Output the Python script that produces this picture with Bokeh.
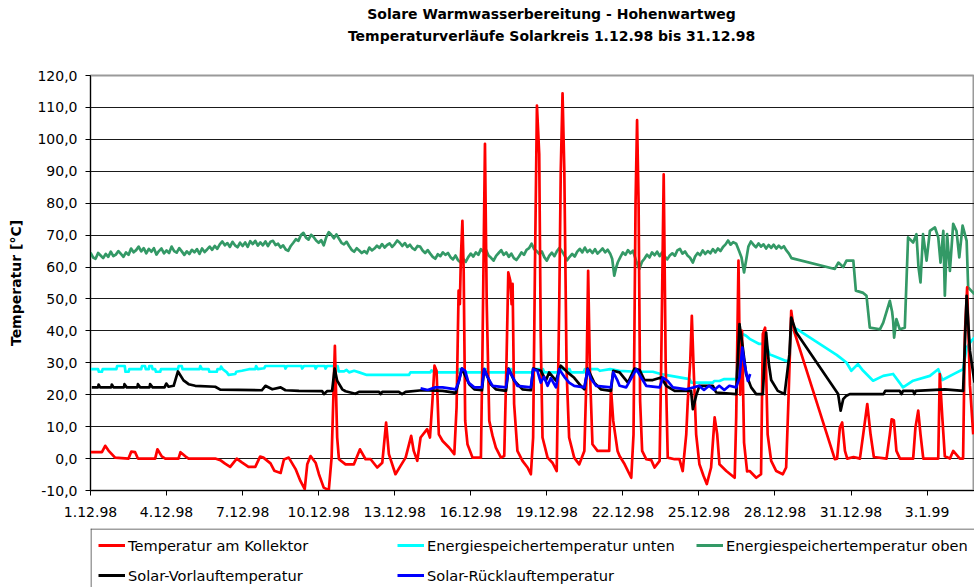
import math
from bokeh.plotting import figure
from bokeh.models import Range1d, FixedTicker, Legend, LegendItem, Span, Label
from bokeh.layouts import column
from bokeh.embed import file_html
from bokeh.resources import INLINE

# ---------------- data (day 0 = 1.12.98) ----------------
X_TICKS = [0, 3, 6, 9, 12, 15, 18, 21, 24, 27, 30, 33]
X_LABELS = ["1.12.98", "4.12.98", "7.12.98", "10.12.98", "13.12.98", "16.12.98",
            "19.12.98", "22.12.98", "25.12.98", "28.12.98", "31.12.98", "3.1.99"]
Y_TICKS = [-10, 0, 10, 20, 30, 40, 50, 60, 70, 80, 90, 100, 110, 120]
Y_LABELS = ["-10,0", "0,0", "10,0", "20,0", "30,0", "40,0", "50,0", "60,0", "70,0",
            "80,0", "90,0", "100,0", "110,0", "120,0"]
TITLE_1 = "Solare Warmwasserbereitung - Hohenwartweg"
TITLE_2 = "Temperaturverläufe Solarkreis 1.12.98 bis 31.12.98"
Y_TITLE = "Temperatur [°C]"

KOLLEKTOR = [(0.00,2.0),(0.45,2.0),(0.58,4.0),(0.71,2.5),(0.97,0.3),(1.50,0.0),(1.61,2.2),(1.76,2.0),(1.87,0.0),(2.55,0.0),(2.64,2.9),(2.81,0.7),(2.95,0.0),(3.47,0.0),(3.55,2.0),(3.74,0.7),(3.87,0.0),(4.92,0.0),(5.12,-0.5),(5.31,-1.6),(5.51,-2.6),(5.77,0.0),(5.97,-1.2),(6.23,-2.6),(6.50,-2.6),(6.69,0.6),(6.82,0.3),(7.10,-1.5),(7.25,-3.8),(7.50,-4.5),(7.63,-0.3),(7.82,0.3),(8.09,-3.3),(8.28,-7.0),(8.45,-9.6),(8.55,-1.8),(8.68,0.8),(8.88,-1.3),(9.01,-4.9),(9.20,-9.1),(9.40,-9.9),(9.51,0.3),(9.64,35.3),(9.73,6.6),(9.80,-0.2),(10.06,-1.8),(10.39,-1.8),(10.63,2.9),(10.85,-0.2),(11.05,-0.2),(11.31,-2.8),(11.51,-1.3),(11.66,11.3),(11.77,1.4),(12.03,-4.9),(12.23,-2.3),(12.43,0.3),(12.65,7.1),(12.75,2.4),(12.89,-0.7),(13.02,6.6),(13.28,9.2),(13.39,6.6),(13.48,17.1),(13.57,29.1),(13.65,27.5),(13.74,7.6),(13.89,5.5),(14.15,3.4),(14.35,1.4),(14.44,16.0),(14.52,52.6),(14.57,48.4),(14.61,63.0),(14.67,74.5),(14.72,58.8),(14.78,11.8),(14.87,4.5),(15.07,0.3),(15.40,0.3),(15.46,32.7),(15.56,98.6),(15.63,48.4),(15.73,11.8),(15.86,7.1),(15.99,3.4),(16.19,0.3),(16.32,0.8),(16.41,30.6),(16.48,58.3),(16.56,55.7),(16.61,48.4),(16.65,54.7),(16.71,17.1),(16.84,2.4),(17.04,-0.7),(17.24,-2.8),(17.37,-4.9),(17.46,6.6),(17.53,58.8),(17.61,110.6),(17.70,95.4),(17.76,37.9),(17.83,6.6),(18.03,0.3),(18.22,-1.3),(18.39,-3.9),(18.49,48.4),(18.55,90.2),(18.62,114.4),(18.69,90.2),(18.78,27.5),(18.88,6.6),(19.08,0.3),(19.28,-1.8),(19.48,2.4),(19.57,27.5),(19.63,58.8),(19.70,27.5),(19.80,4.5),(20.00,2.4),(20.46,2.4),(20.53,22.0),(20.62,11.8),(20.79,2.4),(20.87,0.8),(21.07,-1.8),(21.33,-6.0),(21.42,7.6),(21.50,80.0),(21.56,106.0),(21.62,80.0),(21.68,18.0),(21.76,2.4),(21.92,-0.2),(22.12,-0.5),(22.25,-2.8),(22.45,-0.7),(22.51,28.5),(22.61,89.0),(22.69,28.5),(22.77,0.3),(23.04,-0.2),(23.23,-0.2),(23.36,-3.9),(23.50,7.6),(23.56,18.0),(23.66,31.0),(23.72,44.7),(23.79,28.5),(23.89,7.6),(24.02,-1.8),(24.18,-5.4),(24.31,-8.0),(24.48,-2.8),(24.62,12.9),(24.72,7.6),(24.81,-1.8),(25.08,-3.9),(25.41,-6.0),(25.47,12.9),(25.56,62.0),(25.63,20.0),(25.70,40.0),(25.78,5.0),(25.90,-4.0),(26.00,-3.9),(26.26,-6.0),(26.45,-4.9),(26.52,39.0),(26.61,41.0),(26.71,7.6),(26.85,-0.7),(27.05,-3.9),(27.31,-4.9),(27.44,-2.8),(27.53,18.0),(27.64,46.3),(27.75,40.0),(29.36,-0.2),(29.45,0.0),(29.56,9.7),(29.65,11.3),(29.76,2.4),(29.85,0.0),(30.10,0.5),(30.35,0.0),(30.48,7.6),(30.64,17.1),(30.77,7.6),(30.90,0.5),(31.40,0.0),(31.53,7.6),(31.60,12.3),(31.69,12.0),(31.79,2.4),(31.93,0.0),(32.45,0.0),(32.54,9.7),(32.65,15.0),(32.74,7.6),(32.85,0.0),(33.44,0.0),(33.50,26.5),(33.60,12.9),(33.70,0.7),(33.90,0.0),(34.03,2.4),(34.29,0.0),(34.42,0.0),(34.49,39.0),(34.58,53.6),(34.69,23.0),(34.82,7.6)]

SPEICHER_UNTEN = [(0.00,28.0),(0.30,28.0),(0.33,27.2),(0.45,27.2),(0.48,28.0),(1.02,28.0),(1.05,29.0),(1.35,29.0),(1.38,27.2),(1.50,27.2),(1.53,28.0),(2.00,28.0),(2.03,29.0),(2.15,29.0),(2.18,28.0),(2.30,28.0),(2.32,29.0),(2.42,29.0),(2.45,28.0),(2.55,28.0),(2.58,27.2),(2.75,27.2),(2.78,28.0),(3.45,28.0),(3.48,29.0),(3.60,29.0),(3.63,28.0),(4.30,28.0),(4.33,29.0),(4.40,28.0),(4.66,28.0),(4.69,27.2),(4.98,27.2),(5.01,28.0),(5.12,28.0),(5.15,28.8),(5.22,28.0),(5.38,27.0),(5.45,26.2),(5.71,26.5),(5.75,27.2),(5.97,27.5),(6.25,28.0),(6.50,28.0),(6.53,29.0),(6.60,28.0),(6.85,28.3),(6.90,29.0),(7.66,29.0),(7.69,28.2),(7.75,29.0),(8.32,29.0),(8.35,28.2),(8.42,29.0),(8.85,29.0),(8.88,28.2),(8.94,29.0),(9.24,29.0),(9.27,28.2),(9.33,29.0),(9.75,29.0),(9.79,27.3),(10.00,27.3),(10.10,27.8),(10.20,27.0),(10.40,27.5),(10.60,27.0),(10.90,26.2),(11.00,26.2),(12.56,26.2),(12.62,27.0),(13.40,27.0),(13.45,27.6),(13.60,27.0),(14.50,27.0),(14.55,28.0),(14.70,28.0),(14.75,27.0),(15.45,27.0),(15.50,28.0),(15.60,28.0),(15.65,27.0),(16.45,27.0),(16.50,28.0),(16.60,28.0),(16.65,27.0),(17.45,27.0),(17.50,28.0),(17.85,28.0),(17.90,27.0),(18.45,27.0),(18.50,28.0),(18.90,28.0),(18.95,27.0),(19.45,27.0),(19.50,28.0),(20.00,28.0),(20.10,27.5),(20.50,28.0),(20.87,27.5),(21.53,27.2),(22.18,27.2),(22.50,26.5),(22.84,26.0),(23.63,24.9),(23.70,23.8),(24.55,23.8),(24.60,24.3),(24.81,24.3),(25.00,24.9),(25.47,24.9),(25.60,39.5),(25.86,38.5),(26.00,37.5),(26.38,35.9),(26.65,35.9),(26.78,32.7),(27.00,32.0),(27.44,30.6),(27.57,30.6),(27.64,41.0),(27.85,40.6),(29.43,32.5),(29.56,31.7),(29.82,30.1),(30.01,27.5),(30.27,29.6),(30.48,27.5),(30.87,24.4),(31.27,25.9),(31.66,26.5),(32.05,22.3),(32.45,24.4),(33.11,25.9),(33.44,28.0),(33.60,24.6),(34.10,26.7),(34.42,28.0),(34.56,34.8),(34.75,36.9),(34.87,37.9)]

SPEICHER_OBEN = [(0.0,64.5),(0.1,63.0),(0.2,62.6),(0.3,64.4),(0.4,63.6),(0.5,62.8),(0.6,64.1),(0.7,63.2),(0.8,64.8),(0.9,63.4),(1.0,63.9),(1.1,65.0),(1.2,64.1),(1.3,63.2),(1.4,64.6),(1.5,63.8),(1.6,65.8),(1.7,64.6),(1.8,65.3),(1.9,66.4),(2.0,64.9),(2.1,65.9),(2.2,64.3),(2.3,65.7),(2.4,64.8),(2.5,65.9),(2.6,63.9),(2.7,65.0),(2.8,65.8),(2.9,64.3),(3.0,65.2),(3.1,64.4),(3.2,66.4),(3.3,65.0),(3.4,64.5),(3.5,65.9),(3.6,64.9),(3.7,63.8),(3.8,64.9),(3.9,64.1),(4.0,65.4),(4.1,64.6),(4.2,65.6),(4.3,64.1),(4.4,65.8),(4.5,64.7),(4.6,65.5),(4.7,66.4),(4.8,65.4),(4.9,66.6),(5.0,65.7),(5.1,67.1),(5.2,68.0),(5.3,66.8),(5.4,67.5),(5.5,66.3),(5.6,67.9),(5.7,66.8),(5.8,66.2),(5.9,67.6),(6.0,66.6),(6.1,67.7),(6.2,66.3),(6.3,68.1),(6.4,67.2),(6.5,68.2),(6.6,66.7),(6.7,67.7),(6.8,66.8),(6.9,68.0),(7.0,66.6),(7.1,67.9),(7.2,68.2),(7.3,66.9),(7.4,67.3),(7.5,66.1),(7.6,66.8),(7.7,65.5),(7.8,65.1),(7.9,66.6),(8.0,67.6),(8.1,68.7),(8.2,68.2),(8.3,70.0),(8.4,70.7),(8.5,69.2),(8.6,68.6),(8.7,70.1),(8.8,69.4),(8.9,68.3),(9.0,67.6),(9.1,68.4),(9.2,66.8),(9.3,69.4),(9.4,70.9),(9.5,70.1),(9.6,69.0),(9.7,70.2),(9.8,68.9),(9.9,67.6),(10.0,67.1),(10.1,67.9),(10.2,66.6),(10.3,65.4),(10.4,64.8),(10.5,65.9),(10.6,65.2),(10.7,64.4),(10.8,65.0),(10.9,64.3),(11.0,66.1),(11.1,65.2),(11.2,65.8),(11.3,66.7),(11.4,66.0),(11.5,67.2),(11.6,66.1),(11.7,66.9),(11.8,67.4),(11.9,66.3),(12.0,67.2),(12.1,68.3),(12.2,67.6),(12.3,66.6),(12.4,67.5),(12.5,66.3),(12.6,67.0),(12.7,65.9),(12.8,65.4),(12.9,66.6),(13.0,66.4),(13.1,65.2),(13.2,64.4),(13.3,65.3),(13.4,64.2),(13.5,63.2),(13.6,62.6),(13.7,64.0),(13.8,63.4),(13.9,64.6),(14.0,63.8),(14.1,64.4),(14.2,63.1),(14.3,62.4),(14.4,63.6),(14.5,62.1),(14.6,61.4),(14.7,62.6),(14.8,61.6),(14.9,63.1),(15.0,64.2),(15.1,63.3),(15.2,64.6),(15.3,63.8),(15.4,65.6),(15.5,64.8),(15.6,65.4),(15.7,63.6),(15.8,62.9),(15.9,62.0),(16.0,63.5),(16.1,64.4),(16.2,65.3),(16.3,63.8),(16.4,64.6),(16.5,63.2),(16.6,64.2),(16.7,62.8),(16.8,62.2),(16.9,63.3),(17.0,64.6),(17.1,63.8),(17.2,65.4),(17.3,65.9),(17.4,67.3),(17.5,65.6),(17.6,65.0),(17.7,64.1),(17.8,64.9),(17.9,63.1),(18.0,62.0),(18.1,63.6),(18.2,64.5),(18.3,63.4),(18.4,65.0),(18.5,66.0),(18.6,64.9),(18.7,63.6),(18.8,62.1),(18.9,63.2),(19.0,64.1),(19.1,63.3),(19.2,64.8),(19.3,65.7),(19.4,64.6),(19.5,66.1),(19.6,64.7),(19.7,65.4),(19.8,64.4),(19.9,65.6),(20.0,64.2),(20.1,65.0),(20.2,65.8),(20.3,64.6),(20.4,65.4),(20.5,64.2),(20.58,62.5),(20.66,57.3),(20.74,60.0),(20.8,61.5),(20.9,63.1),(21.0,64.6),(21.1,63.8),(21.2,65.3),(21.3,64.3),(21.4,65.1),(21.52,62.0),(21.65,59.4),(21.75,61.6),(21.85,62.6),(21.95,63.9),(22.05,63.0),(22.15,64.6),(22.25,63.7),(22.35,64.8),(22.45,63.4),(22.55,64.6),(22.65,63.3),(22.75,62.4),(22.85,63.6),(22.95,64.3),(23.05,63.5),(23.15,65.2),(23.25,65.7),(23.35,64.2),(23.45,64.9),(23.55,63.6),(23.65,62.9),(23.76,61.4),(23.85,63.3),(23.95,64.4),(24.05,63.7),(24.15,65.2),(24.25,64.1),(24.35,65.0),(24.45,64.3),(24.55,65.6),(24.65,64.6),(24.75,65.8),(24.85,65.0),(24.95,66.3),(25.05,67.1),(25.15,68.3),(25.25,67.0),(25.35,67.8),(25.47,67.3),(25.58,65.1),(25.68,63.0),(25.78,58.3),(25.88,63.0),(25.95,66.4),(26.05,68.0),(26.15,67.0),(26.25,66.2),(26.35,67.4),(26.45,66.4),(26.55,67.1),(26.65,65.8),(26.75,66.9),(26.85,66.0),(26.95,67.0),(27.05,65.8),(27.15,66.7),(27.25,65.9),(27.35,66.5),(27.45,65.2),(27.55,64.2),(27.65,62.8),(29.36,59.4),(29.50,61.4),(29.69,60.0),(29.82,62.0),(30.09,62.0),(30.19,52.6),(30.48,51.9),(30.61,51.0),(30.74,41.0),(31.14,40.5),(31.27,42.6),(31.53,49.4),(31.62,46.0),(31.66,43.2),(31.70,37.9),(31.79,43.7),(31.92,40.5),(32.12,41.0),(32.25,69.3),(32.45,67.7),(32.58,70.3),(32.66,60.0),(32.74,55.2),(32.84,70.3),(32.98,62.0),(33.11,71.3),(33.31,72.4),(33.44,69.3),(33.53,61.4),(33.64,71.3),(33.70,51.0),(33.79,70.3),(33.90,58.8),(34.03,73.5),(34.16,71.3),(34.27,63.0),(34.40,73.0),(34.56,68.2),(34.62,53.6),(34.87,51.5)]

VORLAUF = [(0.05,22.3),(0.30,22.3),(0.32,23.2),(0.38,22.3),(0.82,22.3),(0.84,23.2),(0.91,22.3),(1.32,22.3),(1.34,23.3),(1.43,22.3),(1.85,22.3),(1.87,23.3),(1.96,22.3),(2.33,22.3),(2.35,23.3),(2.45,22.3),(2.92,22.3),(2.99,23.5),(3.08,22.5),(3.28,22.8),(3.45,27.3),(3.67,24.5),(3.87,23.3),(4.13,22.8),(4.92,22.5),(5.12,21.6),(6.76,21.4),(6.90,22.8),(7.17,21.7),(7.50,22.3),(7.69,21.4),(8.22,21.2),(9.14,21.1),(9.21,20.2),(9.33,21.1),(9.53,21.2),(9.63,28.2),(9.73,24.4),(9.93,21.7),(10.06,21.1),(10.45,20.3),(10.59,20.9),(11.38,20.9),(11.44,20.2),(11.51,20.9),(12.16,20.9),(12.29,20.2),(12.43,20.9),(13.08,21.4),(13.89,21.2),(14.41,20.6),(14.65,28.2),(14.94,23.3),(15.14,21.7),(15.44,21.4),(15.53,28.0),(15.79,23.3),(15.99,21.7),(16.39,21.2),(16.49,28.2),(16.71,24.4),(17.04,21.7),(17.37,21.4),(17.46,28.2),(17.77,27.5),(17.96,24.4),(18.09,27.0),(18.36,24.4),(18.55,29.1),(18.82,27.0),(19.08,25.3),(19.34,22.8),(19.48,21.7),(19.61,28.2),(19.87,23.8),(20.13,21.7),(20.53,21.2),(20.62,27.5),(20.87,27.0),(21.20,23.8),(21.46,28.2),(21.66,27.7),(21.85,24.6),(22.18,24.6),(22.51,25.4),(22.71,22.8),(23.04,21.2),(23.69,21.2),(23.76,15.5),(23.89,19.7),(24.02,22.8),(24.55,22.8),(24.68,20.7),(25.47,20.2),(25.60,42.1),(25.73,34.8),(25.86,26.5),(26.06,22.3),(26.26,20.2),(26.52,20.2),(26.65,39.5),(26.76,29.6),(26.85,24.6),(27.11,21.2),(27.38,20.2),(27.57,32.7),(27.64,44.2),(27.84,39.5),(29.49,20.2),(29.59,15.0),(29.69,18.6),(29.82,19.7),(29.95,20.2),(31.28,20.2),(31.35,21.2),(31.92,21.2),(31.99,20.2),(32.05,21.2),(32.45,21.2),(32.50,20.2),(32.55,21.2),(33.70,21.7),(34.42,21.2),(34.56,51.0),(34.69,33.8),(34.87,23.8)]

RUECKLAUF = [(13.02,22.0),(13.30,21.5),(13.60,22.3),(13.89,22.3),(14.41,21.7),(14.54,24.4),(14.65,28.2),(14.78,27.5),(14.91,23.8),(15.14,22.3),(15.44,22.3),(15.53,28.0),(15.66,25.6),(15.86,22.8),(16.39,22.3),(16.49,28.0),(16.65,25.6),(16.84,22.8),(17.37,22.3),(17.46,28.0),(17.63,27.5),(17.76,23.8),(17.89,25.6),(18.03,22.8),(18.16,25.2),(18.36,22.3),(18.49,28.0),(18.69,25.6),(18.88,23.8),(19.08,22.8),(19.48,22.3),(19.61,28.0),(19.74,25.0),(19.94,22.8),(20.53,22.3),(20.62,27.0),(20.79,24.4),(20.87,22.8),(21.13,22.3),(21.53,28.0),(21.72,25.4),(21.92,22.8),(22.45,22.3),(22.58,25.4),(22.77,24.3),(22.97,22.3),(23.50,21.7),(23.80,22.3),(24.00,22.8),(24.20,21.5),(24.40,22.8),(24.60,21.5),(24.80,22.8),(25.00,21.5),(25.20,22.8),(25.47,22.3),(25.60,25.4),(25.71,34.8),(25.80,29.6),(25.93,24.3),(26.02,26.5)]

SERIES = [
    ("Energiespeichertemperatur oben", SPEICHER_OBEN, "#339966"),
    ("Energiespeichertemperatur unten", SPEICHER_UNTEN, "#00FFFF"),
    ("Temperatur am Kollektor", KOLLEKTOR, "#FF0000"),
    ("Solar-Vorlauftemperatur", VORLAUF, "#000000"),
    ("Solar-Rücklauftemperatur", RUECKLAUF, "#0000FF"),
]

FONT = "DejaVu Sans"

# ---------------- title panel ----------------
tp = figure(width=974, height=48, x_range=Range1d(0, 974), y_range=Range1d(0, 48),
            output_backend="svg", toolbar_location=None, title=None,
            x_axis_type=None, y_axis_type=None,
            min_border_left=0, min_border_right=0, min_border_top=0, min_border_bottom=0)
tp.outline_line_color = None
tp.background_fill_color = "white"
tp.border_fill_color = "white"
for txt, ypos in ((TITLE_1, 35), (TITLE_2, 13)):
    tp.add_layout(Label(x=508, y=ypos, text=txt, text_font=FONT, text_font_size="14px",
                        text_font_style="bold", text_align="center",
                        text_baseline="middle", text_color="black"))

# ---------------- main chart ----------------
p = figure(width=974, height=480, x_range=Range1d(0, 34.87), y_range=Range1d(-10, 120),
           output_backend="svg", toolbar_location=None, title=None,
           min_border_left=90, min_border_right=0, min_border_top=27, min_border_bottom=38)
p.background_fill_color = "white"
p.border_fill_color = "white"
p.outline_line_color = "#9a9a9a"
p.outline_line_width = 2

for name, data, color in SERIES:
    xs = [d for d, v in data]
    ys = [v for d, v in data]
    p.line(xs, ys, line_color=color, line_width=2.7, line_join="round")

p.xgrid.visible = False
p.ygrid.ticker = FixedTicker(ticks=[t for t in Y_TICKS if -10 < t < 120])
p.ygrid.grid_line_color = "#1a1a1a"
p.ygrid.grid_line_width = 1

p.xaxis.ticker = FixedTicker(ticks=X_TICKS)
p.xaxis.major_label_overrides = dict(zip(X_TICKS, X_LABELS))
p.yaxis.ticker = FixedTicker(ticks=Y_TICKS)
p.yaxis.major_label_overrides = dict(zip(Y_TICKS, Y_LABELS))
for ax in (p.xaxis[0], p.yaxis[0]):
    ax.axis_line_color = "black"
    ax.axis_line_width = 1
    ax.major_tick_line_color = "black"
    ax.major_tick_in = 0
    ax.major_tick_out = 5
    ax.minor_tick_line_color = None
    ax.major_label_text_font = FONT
    ax.major_label_text_font_size = "14px"
    ax.major_label_text_color = "black"
p.xaxis.major_label_standoff = 11
p.yaxis.major_label_standoff = 8
p.yaxis.axis_label = Y_TITLE
p.yaxis.axis_label_text_font = FONT
p.yaxis.axis_label_text_font_size = "14px"
p.yaxis.axis_label_text_font_style = "bold"
p.yaxis.axis_label_text_color = "black"
p.yaxis.axis_label_standoff = 10

# ---------------- legend panel ----------------
lg = figure(width=974, height=59, x_range=Range1d(0, 884), y_range=Range1d(0, 59),
            output_backend="svg", toolbar_location=None, title=None,
            x_axis_type=None, y_axis_type=None,
            min_border_left=90, min_border_right=0, min_border_top=0, min_border_bottom=0)
lg.outline_line_color = None
lg.background_fill_color = "white"
lg.border_fill_color = "white"
lg.add_layout(Span(location=58.5, dimension="width", line_color="#404040", line_width=1))
lg.add_layout(Span(location=0.5, dimension="height", line_color="#404040", line_width=1))

# legend swatch helpers (kept outside the visible range of the legend panel)
swatch = {}
for name, data, color in SERIES:
    swatch[name] = lg.line([-50, -40], [-50, -50], line_color=color, line_width=3)

COLS = [
    (8, ["Temperatur am Kollektor", "Solar-Vorlauftemperatur"]),
    (307, ["Energiespeichertemperatur unten", "Solar-Rücklauftemperatur"]),
    (606, ["Energiespeichertemperatur oben"]),
]
for xloc, names in COLS:
    items = [LegendItem(label=n, renderers=[swatch[n]]) for n in names]
    n = len(names)
    h = n * 20 + (n - 1) * 10
    leg = Legend(items=items, location=(xloc, 59 - 7 - h), orientation="vertical",
                 border_line_color=None, background_fill_alpha=0, padding=0, margin=0,
                 spacing=10, glyph_width=27, glyph_height=20, label_height=20,
                 label_standoff=3, label_text_font=FONT, label_text_font_size="14.6px",
                 label_text_color="black")
    lg.add_layout(leg)

layout = column(tp, p, lg, spacing=0)
open("out.html", "w").write(file_html(layout, INLINE))
